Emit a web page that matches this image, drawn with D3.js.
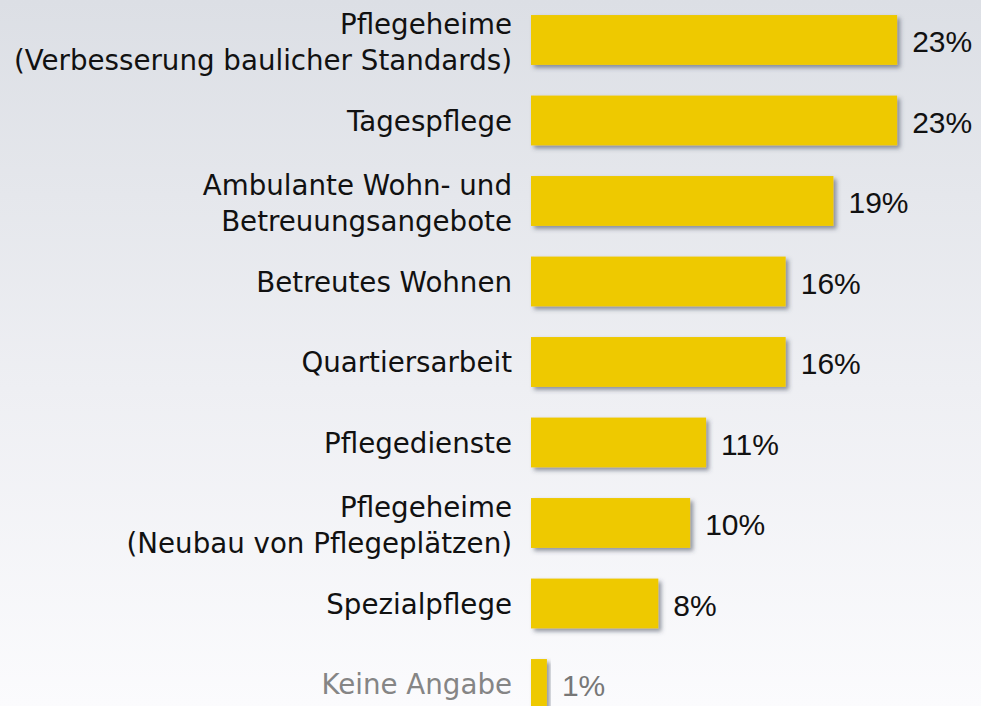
<!DOCTYPE html>
<html>
<head>
<meta charset="utf-8">
<script src="https://cdn.jsdelivr.net/npm/d3@7"></script>
<style>
	html, body { margin: 0; padding: 0; overflow: hidden; }
	#container { width: 981px; height: 706px; }
</style>
</head>
<body>
<div id="container"></div>
<script>
// chart data
const categories = [
	["Pflegeheime", "(Verbesserung baulicher Standards)"],
	["Tagespflege"],
	["Ambulante Wohn- und", "Betreuungsangebote"],
	["Betreutes Wohnen"],
	["Quartiersarbeit"],
	["Pflegedienste"],
	["Pflegeheime", "(Neubau von Pflegeplätzen)"],
	["Spezialpflege"],
	["Keine Angabe"]
];
const values = [23, 23, 19, 16, 16, 11, 10, 8, 1];
const valueLabels = ["23%", "23%", "19%", "16%", "16%", "11%", "10%", "8%", "1%"];
const muted = [false, false, false, false, false, false, false, false, true];

document.addEventListener("DOMContentLoaded", () => {
	const w = 981; // canvas width
	const h = 706; // canvas height
	const x0 = 531; // where the bars start

	const svg = d3.select("#container").append("svg").attr("width", w).attr("height", h);

	const defs = svg.append("defs");
	const grad = defs.append("linearGradient").attr("id", "bg").attr("x1", 0).attr("y1", 0).attr("x2", 0).attr("y2", 1);
	grad.append("stop").attr("offset", "0%").attr("stop-color", "#dcdfe5");
	grad.append("stop").attr("offset", "55%").attr("stop-color", "#eeeff3");
	grad.append("stop").attr("offset", "100%").attr("stop-color", "#fbfbfd");

	const shadow = defs.append("filter").attr("id", "shadow").attr("x", "-10%").attr("y", "-20%").attr("width", "130%").attr("height", "150%");
	shadow.append("feDropShadow").attr("dx", 3).attr("dy", 3).attr("stdDeviation", 2).attr("flood-color", "#404858").attr("flood-opacity", 0.55);

	svg.append("rect").attr("width", w).attr("height", h).attr("fill", "url(#bg)");

	const idx = d3.range(values.length);
	const yScale = d3.scaleBand().domain(idx).range([-0.25, -0.25 + 9 * 80.5]).paddingInner(0.38).paddingOuter(0.19);
	const xScale = d3.scaleLinear().domain([0, 25]).range([x0, x0 + 25 * 15.92]);

	svg.selectAll("rect.bar").data(idx).enter().append("rect")
		.attr("class", "bar")
		.attr("x", xScale(0))
		.attr("y", (i) => yScale(i))
		.attr("width", (i) => xScale(values[i]) - xScale(0))
		.attr("height", yScale.bandwidth())
		.attr("fill", "#eec900")
		.attr("filter", "url(#shadow)");

	// category labels, right aligned left of the bars
	const lh = 36.5; // line height
	const labels = svg.selectAll("text.cat").data(idx).enter().append("text")
		.attr("class", "cat")
		.attr("text-anchor", "end")
		.attr("font-family", "'DejaVu Sans', sans-serif")
		.attr("font-size", 27.7)
		.attr("fill", (i) => muted[i] ? "#858585" : "#111");
	labels.each(function(i) {
		const lines = categories[i];
		const cy = yScale(i) + yScale.bandwidth() / 2;
		const first = cy - (lines.length - 1) * lh / 2;
		lines.forEach((line, k) => {
			d3.select(this).append("tspan")
				.attr("x", 512)
				.attr("y", first + k * lh + (lines.length > 1 ? 12 : 10))
				.text(line);
		});
	});

	svg.selectAll("text.val").data(idx).enter().append("text")
		.attr("class", "val")
		.attr("x", (i) => xScale(values[i]) + 15)
		.attr("y", (i) => yScale(i) + yScale.bandwidth() / 2 + 12)
		.attr("font-family", "'Liberation Sans', Arial, sans-serif")
		.attr("font-size", 30)
		.attr("fill", (i) => muted[i] ? "#777" : "#111")
		.text((i) => valueLabels[i]);
});
</script>
</body>
</html>
